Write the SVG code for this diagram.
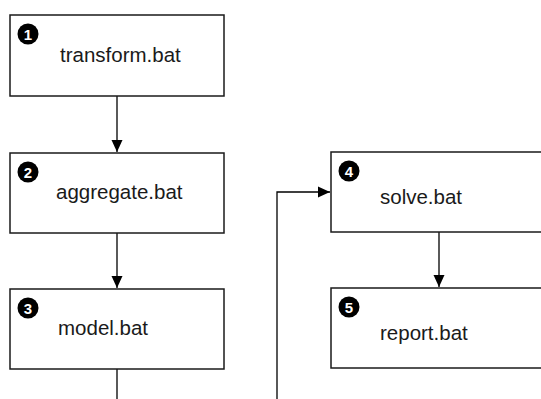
<svg xmlns="http://www.w3.org/2000/svg" width="541" height="399" viewBox="0 0 541 399">
<style>
.box{fill:#fff;stroke:#1a1a1a;stroke-width:1.5}
.lbl{font-family:"Liberation Sans",Arial,sans-serif;font-size:20.5px;fill:#1a1a1a}
.badge{fill:#000}
.num{font-family:"Liberation Sans",Arial,sans-serif;font-size:15px;font-weight:bold;fill:#fff;text-anchor:middle}
.edge{fill:none;stroke:#000;stroke-width:1.3}
</style>
<defs>
<marker id="ah" markerWidth="12" markerHeight="12" refX="12" refY="6" orient="auto" markerUnits="userSpaceOnUse" viewBox="0 0 12 12">
<path d="M0,0.5 L12,6 L0,11.5 z" fill="#000"/>
</marker>
</defs>
<g id="connectors">
<path class="edge" d="M117,96 V152" marker-end="url(#ah)"/>
<path class="edge" d="M117,233 V288" marker-end="url(#ah)"/>
<path class="edge" d="M439,232 V287" marker-end="url(#ah)"/>
<path class="edge" d="M117,369 V399"/>
<path class="edge" d="M277,399 V192 H330" marker-end="url(#ah)"/>
</g>
<g id="n1">
<rect class="box" x="10" y="15" width="214" height="81"/>
<circle class="badge" cx="28" cy="34" r="10.5"/>
<text class="num" x="28" y="39.5">1</text>
<text class="lbl" x="60" y="62">transform.bat</text>
</g>
<g id="n2">
<rect class="box" x="10" y="153" width="214" height="80"/>
<circle class="badge" cx="28" cy="172" r="10.5"/>
<text class="num" x="28" y="177.5">2</text>
<text class="lbl" x="56" y="199">aggregate.bat</text>
</g>
<g id="n3">
<rect class="box" x="10" y="289" width="214" height="80"/>
<circle class="badge" cx="28" cy="308" r="10.5"/>
<text class="num" x="28" y="313.5">3</text>
<text class="lbl" x="58" y="335">model.bat</text>
</g>
<g id="n4">
<rect class="box" x="331" y="152" width="216" height="80"/>
<circle class="badge" cx="349" cy="171" r="10.5"/>
<text class="num" x="349" y="176.5">4</text>
<text class="lbl" x="380" y="204">solve.bat</text>
</g>
<g id="n5">
<rect class="box" x="331" y="288" width="216" height="80"/>
<circle class="badge" cx="349" cy="307" r="10.5"/>
<text class="num" x="349" y="312.5">5</text>
<text class="lbl" x="380" y="340">report.bat</text>
</g>
</svg>
